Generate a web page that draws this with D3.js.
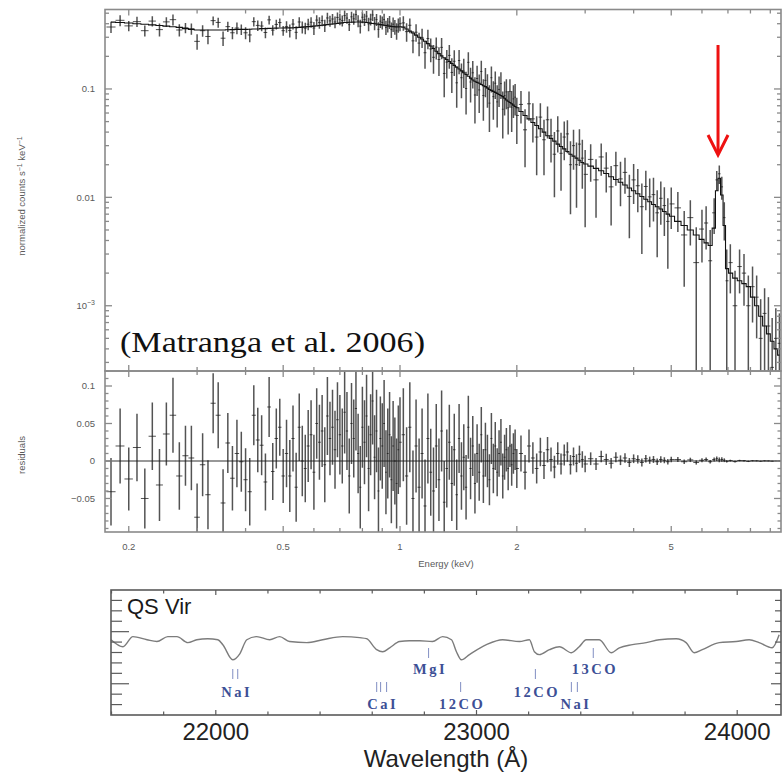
<!DOCTYPE html>
<html><head><meta charset="utf-8">
<script src="https://cdn.jsdelivr.net/npm/d3@7"></script>
<style>body{margin:0;background:#fff}svg{display:block}</style>
</head><body>
<svg id="c" width="782" height="778"></svg>
<script>
// ---------- X-ray spectrum (QS Vir, Matranga et al. 2006) ----------
const energyKeV = [0.18,0.19,0.20,0.21,0.22,0.23,0.24,0.25,0.26,0.27,0.28,0.29,0.30,0.31,0.32,0.33,0.34,0.35,0.36,0.37,0.38,0.39,0.40,0.41,0.42,0.43,0.44,0.45,0.46,0.47,0.48,0.49,0.50,
0.51,0.52,0.53,0.54,0.55,0.56,0.57,0.58,0.59,0.60,0.61,0.62,0.63,0.64,0.65,0.66,0.67,0.68,0.69,0.70,0.71,0.72,0.73,0.74,0.75,0.76,0.77,0.78,0.79,0.80,0.81,0.82,0.83,0.84,0.85,0.86,0.87,0.88,0.89,0.90,0.91,0.92,0.93,0.94,0.95,0.96,0.97,0.98,0.99,1.00,
1.02,1.04,1.06,1.08,1.10,1.12,1.14,1.16,1.18,1.20,1.22,1.24,1.26,1.28,1.30,1.32,1.34,1.36,1.38,1.40,1.42,1.44,1.46,1.48,1.50,1.52,1.54,1.56,1.58,1.60,1.62,1.64,1.66,1.68,1.70,1.72,1.74,1.76,1.78,1.80,1.82,1.84,1.86,1.88,1.90,1.92,1.94,1.96,1.98,2.00,
2.05,2.10,2.15,2.20,2.25,2.30,2.35,2.40,2.45,2.50,2.55,2.60,2.65,2.70,2.75,2.80,2.85,2.90,2.95,3.00,
3.1,3.2,3.3,3.4,3.5,3.6,3.7,3.8,3.9,4.0,4.1,4.2,4.3,4.4,4.5,4.6,4.7,4.8,4.9,5.0,
5.2,5.4,5.6,5.8,6.0,6.15,6.3,6.45,6.55,6.65,6.75,6.85,6.95,7.1,7.3,7.5,7.7,7.9,8.1,8.3,8.5,8.7,8.9,9.1,9.3,9.5];

const modelCounts = [0.414,0.41,0.406,0.40,0.395,0.39,0.385,0.38,0.375,0.37,0.36,0.355,0.35,0.35,0.35,0.35,0.35,0.35,0.352,0.353,0.355,0.355,0.355,0.356,0.357,0.358,0.36,0.36,0.362,0.363,0.364,0.365,0.365,
0.366,0.366,0.367,0.368,0.370,0.372,0.374,0.376,0.378,0.380,0.382,0.385,0.387,0.390,0.392,0.395,0.397,0.400,0.402,0.405,0.407,0.410,0.411,0.412,0.413,0.414,0.415,0.415,0.415,0.414,0.412,0.410,0.408,0.405,0.402,0.400,0.397,0.395,0.392,0.390,0.387,0.385,0.382,0.380,0.378,0.376,0.375,0.374,0.374,0.375,
0.372,0.358,0.342,0.328,0.314,0.300,0.289,0.276,0.262,0.249,0.236,0.223,0.212,0.202,0.194,0.187,0.179,0.172,0.165,0.159,0.153,0.147,0.141,0.136,0.131,0.126,0.121,0.118,0.115,0.113,0.110,0.107,0.105,0.102,0.099,0.097,0.095,0.093,0.091,0.089,0.087,0.085,0.082,0.079,0.077,0.075,0.073,0.071,0.069,0.067,
0.062,0.057,0.053,0.049,0.046,0.043,0.040,0.037,0.035,0.033,0.031,0.0295,0.028,0.0265,0.025,0.024,0.023,0.022,0.021,0.0203,
0.0194,0.0185,0.0176,0.0166,0.0155,0.0146,0.0138,0.0130,0.0122,0.0115,0.0108,0.0102,0.0096,0.0091,0.0086,0.0082,0.0078,0.0074,0.0070,0.0067,
0.0060,0.0055,0.0050,0.0045,0.0041,0.0038,0.0036,0.0052,0.0115,0.0150,0.0105,0.0055,0.0022,0.0020,0.0018,0.0017,0.0016,0.0015,0.0012,0.0010,0.0008,0.00065,0.00055,0.00047,0.0004,0.00035];

const residuals = [-0.041,0.02,-0.024,0.018,-0.05,0.033,-0.032,0.036,0.061,-0.02,0.007,0.004,-0.075,-0.005,-0.045,0.077,0.061,-0.056,0.024,-0.023,0.01,-0.001,-0.025,-0.041,0.061,0.028,0.021,-0.028,0.072,-0.014,0.03,0.045,-0.02,
0.01,-0.02,0.03,-0.035,0.045,0.0,-0.01,0.02,0.035,-0.015,0.05,0.025,0.04,-0.005,0.06,0.03,0.045,0.015,0.055,0.035,0.02,0.065,0.04,-0.02,0.05,0.03,0.07,0.01,-0.035,0.045,0.025,0.06,-0.01,0.035,0.08,0.005,0.04,-0.04,0.03,0.02,0.05,-0.015,0.01,0.035,-0.025,0.02,0.0,-0.03,0.015,0.025,
0.035,-0.02,0.045,-0.05,0.02,-0.035,0.01,-0.06,0.03,-0.015,-0.04,0.02,-0.025,0.04,-0.055,-0.01,0.025,-0.03,0.015,-0.045,0.03,-0.02,0.005,-0.035,0.045,-0.01,0.02,-0.03,0.01,-0.015,0.035,-0.02,0.015,0.0,-0.025,0.03,-0.01,0.02,-0.015,0.01,0.025,-0.02,0.005,0.015,-0.01,0.02,-0.005,0.01,0.015,-0.01,
0.01,-0.015,0.02,0.004,-0.01,0.012,-0.006,0.015,0.002,-0.008,0.01,-0.004,0.008,0.012,-0.005,0.006,-0.003,0.009,0.002,-0.004,
0.003,-0.004,0.006,0.002,-0.003,0.005,0.001,0.004,-0.002,0.003,0.002,-0.002,0.003,0.001,0.002,-0.001,0.002,0.001,-0.001,0.002,
0.002,-0.001,0.0015,-0.002,0.001,0.002,-0.001,0.002,0.003,0.0015,0.002,0.001,-0.0005,0.0005,-0.0008,0.0006,0.0004,-0.0005,0.0003,0.0002,-0.0003,0.0002,0.0001,-0.0002,0.0001,0.0001];

const errors = [0.045,0.05,0.042,0.045,0.04,0.045,0.048,0.042,0.05,0.045,0.04,0.043,0.045,0.042,0.046,0.04,0.044,0.045,0.04,0.043,0.045,0.04,0.042,0.045,0.04,0.043,0.04,0.038,0.04,0.038,0.04,0.038,0.036,
0.045,0.048,0.044,0.046,0.045,0.047,0.045,0.048,0.046,0.05,0.047,0.05,0.048,0.05,0.052,0.049,0.05,0.052,0.05,0.053,0.05,0.055,0.052,0.05,0.054,0.052,0.056,0.053,0.055,0.054,0.056,0.055,0.057,0.054,0.058,0.056,0.055,0.058,0.056,0.057,0.058,0.056,0.06,0.057,0.058,0.06,0.058,0.06,0.059,0.06,
0.062,0.065,0.06,0.064,0.062,0.065,0.06,0.062,0.06,0.058,0.058,0.056,0.055,0.054,0.055,0.052,0.05,0.05,0.048,0.047,0.046,0.045,0.044,0.043,0.042,0.041,0.04,0.04,0.039,0.038,0.037,0.036,0.036,0.035,0.034,0.034,0.033,0.032,0.032,0.031,0.031,0.030,0.030,0.029,0.029,0.028,0.028,0.027,0.027,0.026,
0.024,0.023,0.022,0.021,0.02,0.019,0.018,0.017,0.016,0.015,0.015,0.014,0.014,0.013,0.013,0.012,0.012,0.0115,0.011,0.011,
0.0085,0.008,0.0078,0.0075,0.007,0.0068,0.0065,0.0062,0.006,0.0058,0.0055,0.0052,0.005,0.0048,0.0046,0.0044,0.0042,0.004,0.0038,0.0036,
0.0032,0.003,0.0029,0.0028,0.0026,0.0025,0.0024,0.0026,0.003,0.0032,0.003,0.0025,0.0016,0.0012,0.0011,0.001,0.001,0.0009,0.0008,0.0007,0.00065,0.0006,0.00055,0.0005,0.00045,0.0004];

const energyTickLabels = [0.2, 0.5, 1, 2, 5];
const countTickValues = [0.001, 0.01, 0.1];
const countTickLabels = ["10|−3", "0.01", "0.1"];
const residTickValues = [-0.05, 0, 0.05, 0.1];
const residTickLabels = ["−0.05", "0", "0.05", "0.1"];
const feLineKeV = 6.6;

// ---------- IR spectrum ----------
const irWavelength = [21598,21644,21682,21736,21774,21816,21851,21893,21927,21969,22008,22027,22065,22092,22119,22157,22207,22245,22283,22349,22410,22487,22552,22578,22617,22640,22667,22705,22743,22782,22831,22870,22904,22923,22942,22973,23038,23100,23165,23203,23222,23241,23280,23318,23364,23394,23421,23471,23517,23548,23598,23651,23701,23766,23804,23835,23866,23931,23996,24046,24084,24134,24161];
const irFlux = [0.969,0.942,0.981,0.969,0.962,0.981,0.981,0.958,0.969,0.973,0.969,0.950,0.892,0.915,0.969,0.981,0.969,0.981,0.962,0.958,0.969,0.981,0.977,0.973,0.931,0.923,0.938,0.962,0.965,0.965,0.962,0.981,0.969,0.923,0.892,0.912,0.950,0.969,0.962,0.969,0.923,0.912,0.931,0.942,0.919,0.942,0.969,0.969,0.919,0.938,0.950,0.958,0.969,0.973,0.958,0.919,0.931,0.958,0.962,0.969,0.958,0.938,0.988];
const lineNames = ["NaI", "CaI", "MgI", "12CO", "12CO", "NaI", "13CO"];
const lineWaves = [[22065,22084],[22617,22632,22655],[22816],[22939],[23226],[23364,23387],[23448]];
const wavelengthTicks = [22000, 23000, 24000];

// ---------- drawing ----------
const svg = d3.select("#c");
const sans = "'Liberation Sans', Arial, Helvetica, sans-serif";
const L = 105, R = 781, T = 9.5, M = 371, B = 532;

const x = d3.scaleLog().domain([0.1737, 9.59]).range([L, R]);
const yT = d3.scaleLog().domain([2.5e-4, 0.541]).range([M, T]);
const yR = d3.scaleLinear().domain([-0.0947, 0.12]).range([B, M]);

const defs = svg.append("defs");
defs.append("clipPath").attr("id","clipT").append("rect").attr("x",L).attr("y",T).attr("width",R-L).attr("height",M-T);
defs.append("clipPath").attr("id","clipR").append("rect").attr("x",L).attr("y",M).attr("width",R-L).attr("height",B-M);

const bins = energyKeV.map((e,i) => {
  const lo = i>0 ? Math.sqrt(e*energyKeV[i-1]) : e*e/Math.sqrt(e*energyKeV[i+1]);
  const hi = i<energyKeV.length-1 ? Math.sqrt(e*energyKeV[i+1]) : e*e/Math.sqrt(e*energyKeV[i-1]);
  return {e, lo, hi, model: modelCounts[i], res: residuals[i], err: errors[i], data: modelCounts[i]+residuals[i]};
});

const gT = svg.append("g").attr("clip-path","url(#clipT)");
const barColor = "#1a1a1a";
gT.selectAll("line.ev").data(bins).join("line")
  .attr("x1", d=>x(d.e)).attr("x2", d=>x(d.e))
  .attr("y1", d=>yT(d.data+d.err))
  .attr("y2", d=>yT(Math.max(d.data-d.err, 1e-5)))
  .attr("stroke", barColor).attr("stroke-width", 1.5).attr("stroke-opacity", 0.75);
gT.selectAll("line.eh").data(bins).join("line")
  .attr("x1", d=>x(d.lo)).attr("x2", d=>x(d.hi))
  .attr("y1", d=>yT(Math.max(d.data,1e-5))).attr("y2", d=>yT(Math.max(d.data,1e-5)))
  .attr("stroke", barColor).attr("stroke-width", 1).attr("stroke-opacity", 0.75);
gT.append("path").datum(bins)
  .attr("d", d3.line().x(d=>x(d.e)).y(d=>yT(d.model)).curve(d3.curveStep))
  .attr("fill","none").attr("stroke","#111").attr("stroke-width",1.1);

const gR = svg.append("g").attr("clip-path","url(#clipR)");
gR.append("line").attr("x1",L).attr("x2",R).attr("y1",yR(0)).attr("y2",yR(0))
  .attr("stroke","#333").attr("stroke-width",1.2);
gR.selectAll("line.rv").data(bins).join("line")
  .attr("x1", d=>x(d.e)).attr("x2", d=>x(d.e))
  .attr("y1", d=>yR(d.res+d.err)).attr("y2", d=>yR(d.res-d.err))
  .attr("stroke", barColor).attr("stroke-width", 1.5).attr("stroke-opacity", 0.75);
gR.selectAll("line.rh").data(bins).join("line")
  .attr("x1", d=>x(d.lo)).attr("x2", d=>x(d.hi))
  .attr("y1", d=>yR(d.res)).attr("y2", d=>yR(d.res))
  .attr("stroke", barColor).attr("stroke-width", 1).attr("stroke-opacity", 0.75);

const frameC = "#8a8a8a";
svg.append("rect").attr("x",L).attr("y",T).attr("width",R-L).attr("height",M-T)
  .attr("fill","none").attr("stroke",frameC).attr("stroke-width",1.6);
svg.append("rect").attr("x",L).attr("y",M).attr("width",R-L).attr("height",B-M)
  .attr("fill","none").attr("stroke",frameC).attr("stroke-width",1.6);

const ax = svg.append("g").attr("stroke",frameC).attr("stroke-width",1.3);
x.ticks().forEach(t => {
  const len = energyTickLabels.includes(+t.toFixed(3)) ? 6 : 4;
  const px = x(t);
  ax.append("line").attr("x1",px).attr("x2",px).attr("y1",T).attr("y2",T+len);
  ax.append("line").attr("x1",px).attr("x2",px).attr("y1",M-len).attr("y2",M+len);
  ax.append("line").attr("x1",px).attr("x2",px).attr("y1",B-len).attr("y2",B);
});
yT.ticks().forEach(t => {
  const lg = Math.log10(t);
  const len = Math.abs(lg-Math.round(lg))<1e-6 ? 7 : 4;
  const py = yT(t);
  ax.append("line").attr("x1",L).attr("x2",L+len).attr("y1",py).attr("y2",py);
  ax.append("line").attr("x1",R-len).attr("x2",R).attr("y1",py).attr("y2",py);
});
d3.range(-9,13).forEach(i => {
  const v = i/100;
  const len = (i%5===0) ? 7 : 3.5;
  const py = yR(v);
  ax.append("line").attr("x1",L).attr("x2",L+len).attr("y1",py).attr("y2",py);
  ax.append("line").attr("x1",R-len).attr("x2",R).attr("y1",py).attr("y2",py);
});

const lab = svg.append("g").attr("font-family",sans).attr("font-size",9.5).attr("fill","#5a5a5a");
energyTickLabels.forEach(t => {
  lab.append("text").attr("x",x(t)).attr("y",550).attr("text-anchor","middle").text(String(t));
});
countTickValues.forEach((v,i) => {
  const s = countTickLabels[i];
  const t = lab.append("text").attr("x",95).attr("y",yT(v)+3.5).attr("text-anchor","end");
  if (s.includes("|")) {
    const [b,e] = s.split("|");
    t.append("tspan").text(b);
    t.append("tspan").attr("dy",-4).attr("font-size",7).text(e);
  } else t.text(s);
});
residTickValues.forEach((v,i) => {
  lab.append("text").attr("x",95).attr("y",yR(v)+3.5).attr("text-anchor","end").text(residTickLabels[i]);
});
lab.append("text").attr("x",446).attr("y",567).attr("text-anchor","middle").text("Energy (keV)");
const yl = lab.append("text").attr("transform","translate(25,196) rotate(-90)").attr("text-anchor","middle");
yl.append("tspan").text("normalized counts s");
yl.append("tspan").attr("dy",-3).attr("font-size",7).text("−1");
yl.append("tspan").attr("dy",3).text(" keV");
yl.append("tspan").attr("dy",-3).attr("font-size",7).text("−1");
lab.append("text").attr("transform","translate(25,455) rotate(-90)").attr("text-anchor","middle").text("residuals");

svg.append("text").attr("x",120).attr("y",352)
  .attr("font-family","'Liberation Serif', 'Times New Roman', serif").attr("font-size",29)
  .attr("fill","#111").attr("textLength",305).attr("lengthAdjust","spacingAndGlyphs")
  .text("(Matranga et al. 2006)");

const ar = svg.append("g").attr("stroke","#ee1111").attr("stroke-width",3).attr("fill","none");
const axp = x(feLineKeV);
ar.append("line").attr("x1",axp).attr("x2",axp).attr("y1",45).attr("y2",153);
ar.append("path").attr("d",`M${axp-10},135 L${axp},155 L${axp+10},135`);

// ---------- IR panel ----------
const IL = 111, IR = 781, IT = 590, IB = 715;
const w = d3.scaleLinear().domain([21598, 24168]).range([IL, IR]);
const f = d3.scaleLinear().domain([0.68, 1.16]).range([IB, IT]);

svg.append("path").datum(irWavelength.map((v,i)=>[v, irFlux[i]]))
  .attr("d", d3.line().x(d=>w(d[0])).y(d=>f(d[1])).curve(d3.curveMonotoneX))
  .attr("fill","none").attr("stroke","#7c7c7c").attr("stroke-width",1.4);

svg.append("rect").attr("x",IL).attr("y",IT).attr("width",IR-IL).attr("height",IB-IT)
  .attr("fill","none").attr("stroke","#5a5a5a").attr("stroke-width",1.6);
const ia = svg.append("g").attr("stroke","#5a5a5a").attr("stroke-width",1.2);
d3.range(21600, 24200, 200).forEach(t => {
  const len = (t%1000===0) ? 5 : 3.5;
  ia.append("line").attr("x1",w(t)).attr("x2",w(t)).attr("y1",IB-len).attr("y2",IB);
  ia.append("line").attr("x1",w(t)).attr("x2",w(t)).attr("y1",IT).attr("y2",IT+len);
});
d3.range(18, 29).forEach(i => {
  const v = i*0.04;
  const major = (i===20 || i===25);
  const py = f(v);
  ia.append("line").attr("x1",IL).attr("x2",IL+(major?18:11)).attr("y1",py).attr("y2",py);
  ia.append("line").attr("x1",IR-(major?10:6)).attr("x2",IR).attr("y1",py).attr("y2",py);
});
wavelengthTicks.forEach(t => {
  svg.append("text").attr("x",w(t)).attr("y",740).attr("text-anchor","middle")
    .attr("font-family",sans).attr("font-size",24).attr("fill","#222").text(String(t));
});
svg.append("text").attr("x",446).attr("y",767).attr("text-anchor","middle")
  .attr("font-family",sans).attr("font-size",24).attr("fill","#222").text("Wavelength (Å)");
svg.append("text").attr("x",127).attr("y",614)
  .attr("font-family",sans).attr("font-size",22).attr("fill","#1a1a1a").text("QS Vir");

const rows = [[648,658,674],[669,679,697],[682,692,709]];
const lineRow = [1,2,0,2,1,2,0];
const idg = svg.append("g");
lineNames.forEach((n,i) => {
  const r = rows[lineRow[i]];
  lineWaves[i].forEach(wv => {
    idg.append("line").attr("x1",w(wv)).attr("x2",w(wv)).attr("y1",r[0]).attr("y2",r[1])
      .attr("stroke","#8c98c8").attr("stroke-width",1.1);
  });
  const cx = w(d3.mean(lineWaves[i]));
  idg.append("text").attr("x",cx + 1.5).attr("y",r[2]).attr("text-anchor","middle")
    .attr("font-family","'Liberation Serif', 'Times New Roman', serif").attr("font-weight","bold")
    .attr("font-size",14.5).attr("letter-spacing",2.5).attr("fill","#3d4f96").text(n);
});
</script>
</body></html>
